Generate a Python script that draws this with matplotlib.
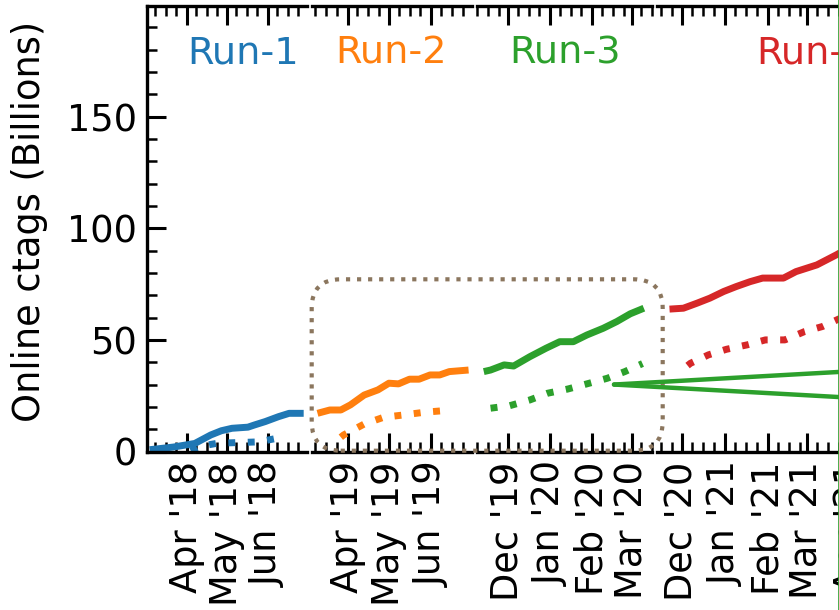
import matplotlib
matplotlib.use("Agg")
import matplotlib.pyplot as plt
import matplotlib.dates as mdates
from matplotlib.patches import FancyBboxPatch, ConnectionPatch
from matplotlib.lines import Line2D
from matplotlib.ticker import MultipleLocator
import pandas as pd

# cumulative online ctags per run (billions)
run1_dates = ["2018-03-04", "2018-03-22", "2018-04-07", "2018-04-19", "2018-04-27", "2018-05-05",
              "2018-05-17", "2018-05-22", "2018-05-30", "2018-06-09", "2018-06-17", "2018-06-28"]
run1_vals = [0.8, 2.0, 3.6, 7.4, 9.3, 10.4, 10.9, 11.9, 13.4, 15.6, 17.1, 17.1]
run1_dot_dates = ["2018-04-04", "2018-04-10", "2018-04-24", "2018-05-09", "2018-05-25", "2018-06-12"]
run1_dot_vals = [0.3, 2.2, 3.7, 4.0, 4.3, 6.4]

run2_dates = ["2019-03-10", "2019-03-19", "2019-03-27", "2019-04-03", "2019-04-13", "2019-04-23",
              "2019-05-01", "2019-05-08", "2019-05-16", "2019-05-23", "2019-05-31", "2019-06-07",
              "2019-06-14", "2019-06-28"]
run2_vals = [17.1, 18.6, 18.6, 20.9, 25.3, 27.6, 30.6, 30.3, 32.4, 32.4, 34.3, 34.3, 35.8, 36.5]
run2_dot_dates = ["2019-03-27", "2019-03-29", "2019-04-13", "2019-04-27", "2019-05-12", "2019-05-27",
                  "2019-06-12"]
run2_dot_vals = [6.4, 7.4, 12.3, 15.3, 16.4, 17.6, 18.4]

run3_dates = ["2019-11-13", "2019-11-18", "2019-11-28", "2019-12-05", "2019-12-17", "2019-12-29",
              "2020-01-08", "2020-01-18", "2020-01-28", "2020-02-09", "2020-02-19", "2020-02-29",
              "2020-03-10"]
run3_vals = [35.8, 36.5, 38.8, 38.3, 42.5, 46.3, 49.2, 49.2, 52.2, 55.2, 58.2, 61.7, 64.2]
run3_dot_dates = ["2019-11-18", "2019-12-02", "2019-12-17", "2019-12-30", "2020-01-14", "2020-01-28",
                  "2020-02-12", "2020-02-25", "2020-03-09"]
run3_dot_vals = [19.4, 20.5, 23.1, 26.1, 28.0, 30.3, 32.8, 35.8, 39.4]

run4_dates = ["2020-11-22", "2020-12-02", "2020-12-12", "2020-12-21", "2020-12-31", "2021-01-09",
              "2021-01-19", "2021-01-28", "2021-02-12", "2021-02-21", "2021-03-08", "2021-03-22",
              "2021-03-26"]
run4_vals = [63.8, 64.2, 66.5, 68.7, 71.7, 73.9, 76.1, 77.7, 77.7, 80.6, 83.6, 88.1, 89.5]
run4_dot_dates = ["2020-12-05", "2020-12-07", "2020-12-20", "2021-01-02", "2021-01-17", "2021-01-30",
                  "2021-02-13", "2021-02-27", "2021-03-12", "2021-03-26"]
run4_dot_vals = [38.5, 39.5, 43.3, 45.8, 47.8, 50.0, 50.0, 53.7, 56.0, 60.0]

run_names = ["Run-1", "Run-2", "Run-3", "Run-4"]
run_colors = ["tab:blue", "tab:orange", "tab:green", "tab:red"]
xlims = [("2018-03-02", "2018-06-30 12:00"), ("2019-03-06", "2019-06-30 12:00"),
         ("2019-11-08", "2020-03-16"), ("2020-11-13", "2021-06-24")]
label_x = [0.598, 0.494, 0.502, 0.5]

# zoom point marked on Run-3
zoom_date = "2020-02-17"
zoom_val = 30.0

solid = [(run1_dates, run1_vals), (run2_dates, run2_vals), (run3_dates, run3_vals), (run4_dates, run4_vals)]
dotted = [(run1_dot_dates, run1_dot_vals), (run2_dot_dates, run2_dot_vals),
          (run3_dot_dates, run3_dot_vals), (run4_dot_dates, run4_dot_vals)]

fs = 26.5
fig = plt.figure(figsize=(8.39, 6.10), dpi=100)
W, H = 839.0, 610.0
bottom = (H - 451.5) / H
height = (451.5 - 6) / H
panels_px = [(147, 160), (312, 160), (477, 175), (657, 310)]

axes = []
for i, (x0, w) in enumerate(panels_px):
    ax = fig.add_axes([x0 / W, bottom, w / W, height])
    c = run_colors[i]
    d, v = solid[i]
    ax.plot(pd.to_datetime(d), v, color=c, lw=5, solid_capstyle="butt")
    d, v = dotted[i]
    ax.plot(pd.to_datetime(d), v, color=c, lw=5, linestyle=(0, (1, 1.8)))
    ax.set_xlim(pd.to_datetime(xlims[i][0]), pd.to_datetime(xlims[i][1]))
    ax.set_ylim(0, 199.6)
    ax.text(label_x[i], 0.8714, run_names[i], transform=ax.transAxes, ha="center",
            va="baseline", color=c, fontsize=27.5)

    ax.xaxis.set_major_locator(mdates.MonthLocator())
    ax.xaxis.set_minor_locator(mdates.DayLocator(bymonthday=[8, 16, 24]))
    ax.xaxis.set_major_formatter(mdates.DateFormatter("%b '%y"))
    ax.yaxis.set_major_locator(MultipleLocator(50))
    ax.yaxis.set_minor_locator(MultipleLocator(10))
    ax.tick_params(axis="x", which="both", direction="in", top=True, bottom=True,
                   labelsize=fs, labelrotation=90, pad=7)
    ax.tick_params(axis="y", which="both", direction="in", labelsize=fs, pad=7)
    ax.tick_params(which="major", length=13.5, width=2.2)
    ax.tick_params(which="minor", length=7.5, width=1.8)
    for s in ax.spines.values():
        s.set_linewidth(2.4)
    if i > 0:
        ax.spines["left"].set_visible(False)
        ax.tick_params(axis="y", which="both", left=False, labelleft=False)
    if i < 3:
        ax.spines["right"].set_visible(False)
    axes.append(ax)

fig.text(30 / W, 1 - 221.5 / H, "Online ctags (Billions)", rotation=90,
         ha="center", va="center", fontsize=fs)

# rounded dotted box around Run-2 / Run-3
box = FancyBboxPatch((311.7 / 100, (H - 450.7) / 100), (662.7 - 311.7) / 100, (450.7 - 279.3) / 100,
                     boxstyle="round,pad=0,rounding_size=0.29", transform=fig.dpi_scale_trans,
                     fill=False, edgecolor="#8b765e", lw=3, linestyle=":", zorder=5)
fig.patches.append(box)

# connector lines from the zoom point to the inset frame
zx = mdates.date2num(pd.to_datetime(zoom_date))
for yb in (372, 397):
    con = ConnectionPatch(xyA=(zx, zoom_val), coordsA=axes[2].transData,
                          xyB=(838 / W, 1 - yb / H), coordsB="figure fraction",
                          color="tab:green", lw=3.2, zorder=6)
    fig.add_artist(con)
fig.add_artist(Line2D([838.5 / W, 838.5 / W], [0, 1], transform=fig.transFigure,
                      color="tab:green", lw=1.2))

fig.savefig("out.png", dpi=100)
